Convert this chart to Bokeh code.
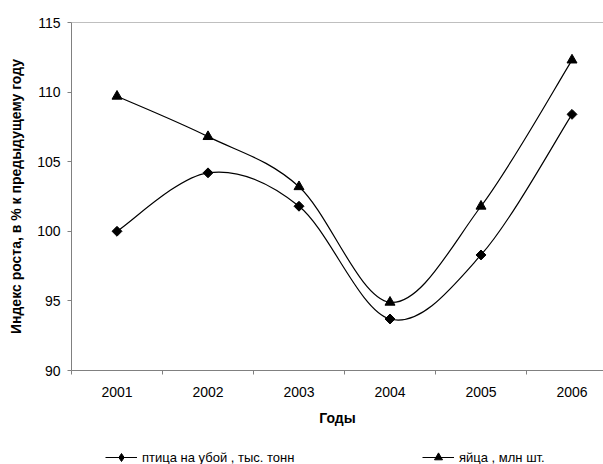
import math
from bokeh.plotting import figure
from bokeh.layouts import column
from bokeh.models import ColumnDataSource, FixedTicker, Span, Legend, LegendItem
from bokeh.embed import file_html
from bokeh.resources import INLINE

years = ["2001", "2002", "2003", "2004", "2005", "2006"]
poultry = [100.0, 104.2, 101.8, 93.7, 98.3, 108.4]
eggs = [109.7, 106.8, 103.2, 94.9, 101.8, 112.3]
y_ticks = [90, 95, 100, 105, 110, 115]
series_names = ["птица на убой , тыс. тонн", "яйца , млн шт."]

xs = list(range(1, len(years) + 1))


def smooth_segments(x, y):
    """Catmull-Rom style Bezier segments (like Excel smoothed line) through data points."""
    n = len(x)
    d = dict(x0=[], y0=[], x1=[], y1=[], cx0=[], cy0=[], cx1=[], cy1=[])
    for i in range(n - 1):
        pm = max(i - 1, 0)
        pp = min(i + 2, n - 1)
        d["x0"].append(x[i]); d["y0"].append(y[i])
        d["x1"].append(x[i + 1]); d["y1"].append(y[i + 1])
        d["cx0"].append(x[i] + (x[i + 1] - x[pm]) / 6.0)
        d["cy0"].append(y[i] + (y[i + 1] - y[pm]) / 6.0)
        d["cx1"].append(x[i + 1] - (x[pp] - x[i]) / 6.0)
        d["cy1"].append(y[i + 1] - (y[pp] - y[i]) / 6.0)
    return ColumnDataSource(d)


p = figure(width=603, height=444, output_backend="svg", toolbar_location=None,
           x_range=(0.5, 0.5 + 532 / 91.0), y_range=(90, 115),
           min_border_left=71, min_border_right=0, min_border_top=22, min_border_bottom=74)
p.outline_line_color = None
p.xgrid.visible = False
p.ygrid.visible = False
p.background_fill_color = "white"
p.border_fill_color = "white"

font = "Liberation Sans"
AX = "#808080"

# x axis
p.xaxis.ticker = FixedTicker(ticks=xs, minor_ticks=[v - 0.5 for v in xs] + [xs[-1] + 0.5])
p.xaxis.major_label_overrides = {x: yr for x, yr in zip(xs, years)}
p.xaxis.major_tick_out = 0
p.xaxis.major_tick_in = 0
p.xaxis.minor_tick_out = 4
p.xaxis.minor_tick_in = 0
p.xaxis.minor_tick_line_color = AX
p.xaxis.axis_line_color = AX
p.xaxis.major_label_text_font = font
p.xaxis.major_label_text_font_size = "14px"
p.xaxis.major_label_text_color = "black"
p.xaxis.major_label_standoff = 12
p.xaxis.axis_label = "Годы"
p.xaxis.axis_label_text_font = font
p.xaxis.axis_label_text_font_size = "14px"
p.xaxis.axis_label_text_font_style = "bold"
p.xaxis.axis_label_text_color = "black"
p.xaxis.axis_label_standoff = 10

# y axis
p.yaxis.ticker = FixedTicker(ticks=y_ticks)
p.yaxis.minor_tick_line_color = None
p.yaxis.major_tick_out = 4
p.yaxis.major_tick_in = 0
p.yaxis.major_tick_line_color = AX
p.yaxis.axis_line_color = AX
p.yaxis.major_label_text_font = font
p.yaxis.major_label_text_font_size = "14px"
p.yaxis.major_label_text_color = "black"
p.yaxis.major_label_standoff = 7
p.yaxis.axis_label = "Индекс роста, в % к предыдущему году"
p.yaxis.axis_label_text_font = font
p.yaxis.axis_label_text_font_size = "14px"
p.yaxis.axis_label_text_font_style = "bold"
p.yaxis.axis_label_text_color = "black"
p.yaxis.axis_label_standoff = 10

p.add_layout(Span(location=y_ticks[-1], dimension="width", line_color=AX, line_width=1))

# smoothed lines
p.bezier(x0="x0", y0="y0", x1="x1", y1="y1", cx0="cx0", cy0="cy0", cx1="cx1", cy1="cy1",
         source=smooth_segments(xs, poultry), line_color="black", line_width=1.2)
p.bezier(x0="x0", y0="y0", x1="x1", y1="y1", cx0="cx0", cy0="cy0", cx1="cx1", cy1="cy1",
         source=smooth_segments(xs, eggs), line_color="black", line_width=1.2)

# markers
p.scatter(xs, poultry, marker="square", angle=math.pi / 4, size=7, fill_color="black", line_color="black")
p.scatter(xs, eggs, marker="triangle", size=10, fill_color="black", line_color="black")

# legend strip (separate small figure below the chart)
lf = figure(width=603, height=20, output_backend="svg", toolbar_location=None,
            x_range=(0, 1), y_range=(0, 1), x_axis_type=None, y_axis_type=None,
            min_border=0, min_border_left=71, min_border_right=0, min_border_top=0, min_border_bottom=0)
lf.outline_line_color = None
lf.grid.visible = False
lf.background_fill_color = "white"
lf.border_fill_color = "white"

# off-screen proxy renderers that only supply the legend glyphs
l1 = lf.line([-5, -4], [-5, -5], line_color="black", line_width=1.2)
m1 = lf.scatter([-5], [-5], marker="diamond", size=9, fill_color="black", line_color="black")
l2 = lf.line([-5, -4], [-5, -5], line_color="black", line_width=1.2)
m2 = lf.scatter([-5], [-5], marker="triangle", size=10, fill_color="black", line_color="black")


def make_legend(items, loc):
    return Legend(items=items, location=loc, orientation="horizontal",
                  padding=0, margin=0, spacing=0, border_line_color=None,
                  background_fill_alpha=0, glyph_width=32, glyph_height=20,
                  label_height=14, label_standoff=5,
                  label_text_font=font, label_text_font_size="13px", label_text_color="black")


lf.add_layout(make_legend([LegendItem(label=series_names[0], renderers=[l1, m1])], (34, -3)), "center")
lf.add_layout(make_legend([LegendItem(label=series_names[1], renderers=[l2, m2])], (351, -3)), "center")

layout = column(p, lf, spacing=0)
open("out.html", "w").write(file_html(layout, INLINE))
